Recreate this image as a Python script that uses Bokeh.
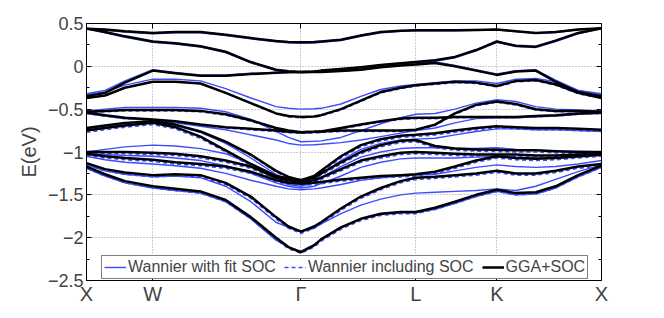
from bokeh.plotting import figure
from bokeh.models import Range1d, FixedTicker, LinearAxis, Legend, LegendItem
from bokeh.embed import file_html
from bokeh.resources import INLINE

# k-path positions of sampled points (X-W-Gamma-L-K-X)
K = [0.0, 0.14, 0.29, 0.5, 0.67, 0.86, 1.05, 1.24, 1.43, 1.524, 1.618, 1.717, 1.77, 1.92, 2.07, 2.22, 2.37, 2.484,
     2.63, 2.78, 2.94, 3.096, 3.24, 3.39, 3.54, 3.71, 3.886]
TICK_POS = [0.0, 0.5, 1.618, 2.484, 3.096, 3.886]
TICK_LABELS = ["X", "W", "Γ", "L", "K", "X"]
Y_TICKS = [-2.5, -2.0, -1.5, -1.0, -0.5, 0.0, 0.5]
Y_MINOR = [-2.25, -1.75, -1.25, -0.75, -0.25, 0.25]
Y_LABELS = ["−2.5", "−2", "−1.5", "−1", "−0.5", "0", "0.5"]
SERIES = ["Wannier with fit SOC", "Wannier including SOC", "GGA+SOC"]

# GGA+SOC bands (eV)
G1 = [0.44, 0.43, 0.41, 0.39, 0.40, 0.40, 0.37, 0.33, 0.295, 0.285, 0.28, 0.283, 0.29, 0.31, 0.36, 0.40, 0.415, 0.42, 0.42, 0.42, 0.425, 0.43, 0.41, 0.39, 0.40, 0.43, 0.445]
G2 = [0.44, 0.40, 0.35, 0.29, 0.27, 0.235, 0.17, 0.05, -0.04, -0.058, -0.066, -0.06, -0.05, -0.03, -0.01, 0.015, 0.035, 0.05, 0.07, 0.11, 0.19, 0.29, 0.24, 0.23, 0.30, 0.39, 0.445]
G3 = [-0.35, -0.31, -0.19, -0.05, -0.08, -0.11, -0.11, -0.09, -0.075, -0.07, -0.066, -0.066, -0.066, -0.055, -0.04, -0.01, 0.01, 0.02, 0.04, 0.0, -0.05, -0.10, -0.06, -0.05, -0.18, -0.30, -0.35]
G4 = [-0.37, -0.34, -0.25, -0.18, -0.18, -0.20, -0.31, -0.43, -0.55, -0.58, -0.59, -0.585, -0.57, -0.50, -0.40, -0.30, -0.25, -0.22, -0.20, -0.18, -0.19, -0.23, -0.17, -0.16, -0.21, -0.31, -0.37]
G5 = [-0.53, -0.52, -0.51, -0.51, -0.51, -0.52, -0.56, -0.63, -0.72, -0.75, -0.77, -0.765, -0.76, -0.75, -0.75, -0.75, -0.75, -0.74, -0.68, -0.55, -0.45, -0.41, -0.44, -0.50, -0.52, -0.52, -0.53]
G6 = [-0.54, -0.57, -0.60, -0.62, -0.64, -0.68, -0.71, -0.73, -0.75, -0.765, -0.77, -0.765, -0.76, -0.72, -0.68, -0.64, -0.61, -0.60, -0.60, -0.59, -0.59, -0.59, -0.59, -0.58, -0.57, -0.55, -0.54]
G7 = [-0.72, -0.69, -0.66, -0.64, -0.68, -0.76, -0.88, -1.03, -1.22, -1.29, -1.33, -1.28, -1.22, -1.05, -0.92, -0.85, -0.81, -0.80, -0.78, -0.75, -0.72, -0.70, -0.71, -0.72, -0.72, -0.73, -0.74]
G8 = [-0.75, -0.72, -0.69, -0.66, -0.71, -0.82, -0.98, -1.14, -1.28, -1.31, -1.33, -1.30, -1.25, -1.12, -1.00, -0.92, -0.87, -0.86, -0.93, -0.96, -0.97, -0.975, -0.98, -0.98, -0.99, -1.00, -1.00]
G9 = [-1.00, -1.00, -1.00, -1.01, -1.02, -1.05, -1.10, -1.17, -1.30, -1.33, -1.35, -1.33, -1.30, -1.20, -1.10, -1.05, -1.01, -1.00, -1.01, -1.02, -1.03, -1.03, -1.03, -1.04, -1.04, -1.03, -1.02]
G10 = [-1.02, -1.05, -1.07, -1.09, -1.12, -1.14, -1.17, -1.23, -1.33, -1.36, -1.37, -1.36, -1.35, -1.32, -1.30, -1.28, -1.27, -1.26, -1.23, -1.17, -1.10, -1.05, -1.07, -1.08, -1.07, -1.05, -1.03]
G11 = [-1.13, -1.20, -1.24, -1.27, -1.26, -1.27, -1.36, -1.52, -1.76, -1.87, -1.93, -1.87, -1.82, -1.66, -1.52, -1.42, -1.34, -1.30, -1.29, -1.27, -1.25, -1.22, -1.25, -1.25, -1.22, -1.17, -1.14]
G12 = [-1.17, -1.26, -1.34, -1.40, -1.43, -1.46, -1.56, -1.76, -2.00, -2.11, -2.17, -2.09, -2.02, -1.88, -1.78, -1.72, -1.70, -1.70, -1.65, -1.58, -1.50, -1.44, -1.48, -1.47, -1.40, -1.27, -1.16]

# Wannier including SOC (dashed)
D1 = [0.44, 0.43, 0.41, 0.39, 0.40, 0.40, 0.37, 0.33, 0.295, 0.285, 0.28, 0.283, 0.29, 0.31, 0.36, 0.40, 0.415, 0.42, 0.42, 0.42, 0.425, 0.43, 0.41, 0.39, 0.40, 0.43, 0.445]
D2 = [0.44, 0.40, 0.35, 0.29, 0.27, 0.235, 0.17, 0.05, -0.04, -0.058, -0.066, -0.06, -0.05, -0.03, -0.01, 0.015, 0.035, 0.05, 0.07, 0.11, 0.19, 0.29, 0.24, 0.23, 0.30, 0.39, 0.445]
D3 = [-0.35, -0.31, -0.19, -0.05, -0.08, -0.11, -0.11, -0.09, -0.075, -0.07, -0.066, -0.066, -0.066, -0.055, -0.04, -0.01, 0.01, 0.02, 0.04, 0.0, -0.05, -0.10, -0.06, -0.05, -0.18, -0.30, -0.35]
D4 = [-0.37, -0.34, -0.25, -0.18, -0.18, -0.20, -0.31, -0.43, -0.55, -0.59, -0.60, -0.59, -0.58, -0.51, -0.41, -0.31, -0.26, -0.23, -0.21, -0.19, -0.20, -0.24, -0.18, -0.17, -0.22, -0.32, -0.37]
D5 = [-0.54, -0.53, -0.52, -0.52, -0.52, -0.53, -0.57, -0.64, -0.73, -0.76, -0.78, -0.775, -0.77, -0.76, -0.76, -0.76, -0.76, -0.755, -0.69, -0.56, -0.46, -0.42, -0.45, -0.51, -0.53, -0.53, -0.54]
D6 = [-0.55, -0.58, -0.61, -0.63, -0.65, -0.69, -0.72, -0.74, -0.76, -0.775, -0.78, -0.775, -0.77, -0.73, -0.69, -0.65, -0.62, -0.61, -0.61, -0.60, -0.60, -0.60, -0.60, -0.59, -0.58, -0.56, -0.55]
D7 = [-0.73, -0.70, -0.67, -0.65, -0.69, -0.77, -0.89, -1.04, -1.23, -1.31, -1.35, -1.30, -1.24, -1.07, -0.94, -0.87, -0.83, -0.82, -0.80, -0.77, -0.74, -0.72, -0.73, -0.74, -0.74, -0.75, -0.76]
D8 = [-0.77, -0.74, -0.71, -0.68, -0.73, -0.84, -1.00, -1.16, -1.30, -1.33, -1.35, -1.32, -1.27, -1.14, -1.02, -0.94, -0.89, -0.88, -0.95, -0.98, -0.99, -0.995, -1.00, -1.00, -1.01, -1.02, -1.02]
D9 = [-1.02, -1.02, -1.02, -1.03, -1.04, -1.07, -1.12, -1.19, -1.32, -1.35, -1.37, -1.35, -1.32, -1.22, -1.12, -1.07, -1.03, -1.02, -1.03, -1.04, -1.05, -1.05, -1.05, -1.06, -1.06, -1.05, -1.04]
D10 = [-1.04, -1.07, -1.09, -1.11, -1.14, -1.16, -1.19, -1.25, -1.35, -1.38, -1.39, -1.38, -1.37, -1.34, -1.32, -1.30, -1.29, -1.28, -1.25, -1.19, -1.12, -1.07, -1.09, -1.10, -1.09, -1.07, -1.05]
D11 = [-1.15, -1.22, -1.26, -1.29, -1.28, -1.29, -1.38, -1.54, -1.78, -1.89, -1.95, -1.89, -1.84, -1.68, -1.54, -1.44, -1.36, -1.32, -1.31, -1.29, -1.27, -1.24, -1.27, -1.27, -1.24, -1.19, -1.16]
D12 = [-1.19, -1.28, -1.36, -1.42, -1.45, -1.48, -1.58, -1.78, -2.02, -2.13, -2.18, -2.11, -2.04, -1.90, -1.80, -1.74, -1.72, -1.72, -1.67, -1.60, -1.52, -1.46, -1.50, -1.49, -1.42, -1.29, -1.18]

# Wannier with fit SOC (solid blue)
S1 = [0.44, 0.42, 0.40, 0.38, 0.39, 0.39, 0.36, 0.32, 0.285, 0.275, 0.27, 0.273, 0.28, 0.30, 0.35, 0.39, 0.41, 0.415, 0.415, 0.415, 0.42, 0.425, 0.405, 0.385, 0.395, 0.425, 0.44]
S2 = [0.44, 0.39, 0.34, 0.28, 0.26, 0.225, 0.16, 0.04, -0.05, -0.067, -0.075, -0.07, -0.06, -0.04, -0.02, 0.005, 0.025, 0.04, 0.06, 0.10, 0.18, 0.28, 0.23, 0.22, 0.29, 0.38, 0.44]
S3 = [-0.32, -0.28, -0.17, -0.04, -0.07, -0.10, -0.10, -0.08, -0.07, -0.068, -0.066, -0.064, -0.06, -0.05, -0.03, 0.0, 0.02, 0.03, 0.05, 0.01, -0.04, -0.09, -0.05, -0.04, -0.16, -0.28, -0.32]
S4 = [-0.33, -0.30, -0.22, -0.15, -0.15, -0.17, -0.26, -0.37, -0.47, -0.49, -0.50, -0.495, -0.49, -0.44, -0.35, -0.27, -0.23, -0.21, -0.19, -0.17, -0.17, -0.20, -0.15, -0.14, -0.18, -0.28, -0.33]
S5 = [-0.52, -0.50, -0.48, -0.48, -0.48, -0.49, -0.53, -0.62, -0.76, -0.83, -0.88, -0.875, -0.87, -0.83, -0.75, -0.67, -0.60, -0.56, -0.55, -0.50, -0.43, -0.39, -0.41, -0.47, -0.50, -0.51, -0.52]
S6 = [-0.55, -0.58, -0.61, -0.63, -0.66, -0.70, -0.74, -0.80, -0.86, -0.90, -0.92, -0.915, -0.91, -0.89, -0.86, -0.82, -0.78, -0.75, -0.72, -0.66, -0.61, -0.60, -0.60, -0.59, -0.58, -0.56, -0.55]
S7 = [-0.73, -0.70, -0.67, -0.65, -0.69, -0.77, -0.90, -1.07, -1.26, -1.33, -1.36, -1.32, -1.26, -1.10, -0.97, -0.90, -0.86, -0.85, -0.84, -0.80, -0.76, -0.73, -0.73, -0.74, -0.74, -0.75, -0.76]
S8 = [-1.00, -0.97, -0.94, -0.92, -0.93, -0.96, -1.02, -1.14, -1.32, -1.38, -1.40, -1.36, -1.30, -1.17, -1.06, -1.00, -0.96, -0.95, -0.95, -0.96, -0.96, -0.95, -0.97, -0.98, -0.99, -0.99, -1.00]
S9 = [-1.02, -1.03, -1.04, -1.05, -1.07, -1.10, -1.16, -1.25, -1.36, -1.40, -1.42, -1.40, -1.37, -1.28, -1.18, -1.12, -1.08, -1.07, -1.07, -1.07, -1.06, -1.05, -1.06, -1.07, -1.07, -1.06, -1.04]
S10 = [-1.05, -1.09, -1.12, -1.14, -1.16, -1.19, -1.25, -1.33, -1.40, -1.43, -1.44, -1.43, -1.42, -1.38, -1.33, -1.30, -1.28, -1.27, -1.26, -1.22, -1.18, -1.15, -1.17, -1.18, -1.17, -1.14, -1.10]
S11 = [-1.15, -1.22, -1.26, -1.29, -1.28, -1.30, -1.40, -1.58, -1.82, -1.88, -1.93, -1.89, -1.84, -1.72, -1.62, -1.55, -1.50, -1.48, -1.47, -1.46, -1.45, -1.43, -1.45, -1.40, -1.32, -1.23, -1.15]
S12 = [-1.19, -1.28, -1.36, -1.42, -1.45, -1.48, -1.58, -1.78, -2.03, -2.11, -2.16, -2.08, -2.02, -1.88, -1.78, -1.73, -1.71, -1.71, -1.67, -1.60, -1.52, -1.46, -1.50, -1.49, -1.42, -1.29, -1.18]

GGA = [G1, G2, G3, G4, G5, G6, G7, G8, G9, G10, G11, G12]
WDASH = [D1, D2, D3, D4, D5, D6, D7, D8, D9, D10, D11, D12]
WFIT = [S1, S2, S3, S4, S5, S6, S7, S8, S9, S10, S11, S12]

FONT = "Liberation Sans"
BLUE = "#3b4cff"

p = figure(width=664, height=318, output_backend="svg", toolbar_location=None,
           x_range=Range1d(0, 3.886), y_range=Range1d(-2.5, 0.5),
           min_border_left=86, min_border_right=63, min_border_top=23, min_border_bottom=38)
p.background_fill_color = "white"
p.border_fill_color = "white"
p.outline_line_color = "black"
p.outline_line_width = 1

r_fit = p.multi_line(xs=[K] * len(WFIT), ys=WFIT, line_color=BLUE, line_width=1.4, line_join="round")
r_dash = p.multi_line(xs=[K] * len(WDASH), ys=WDASH, line_color=BLUE, line_width=1.6, line_dash="4 3")
r_gga = p.multi_line(xs=[K] * len(GGA), ys=GGA, line_color="black", line_width=2.5, line_join="round")

# axes
p.xaxis.ticker = FixedTicker(ticks=TICK_POS)
p.xaxis.major_label_overrides = {t: l for t, l in zip(TICK_POS, TICK_LABELS)}
p.xaxis.major_label_text_font = FONT
p.xaxis.major_label_text_font_size = "20px"
p.xaxis.major_label_standoff = 2
p.xaxis.major_tick_in = 5
p.xaxis.major_tick_out = 0
p.xaxis.minor_tick_line_color = None

p.yaxis.ticker = FixedTicker(ticks=Y_TICKS, minor_ticks=Y_MINOR)
p.yaxis.major_label_overrides = {t: l for t, l in zip(Y_TICKS, Y_LABELS)}
p.yaxis.major_label_text_font = FONT
p.yaxis.major_label_text_font_size = "18px"
p.yaxis.major_label_standoff = 3
p.yaxis.major_tick_in = 5
p.yaxis.major_tick_out = 0
p.yaxis.minor_tick_in = 3
p.yaxis.minor_tick_out = 0
p.yaxis.axis_label = "E(eV)"
p.yaxis.axis_label_text_font = FONT
p.yaxis.axis_label_text_font_size = "20px"
p.yaxis.axis_label_text_font_style = "normal"
p.yaxis.axis_label_standoff = 5

top = LinearAxis(ticker=FixedTicker(ticks=TICK_POS), major_tick_in=5, major_tick_out=0,
                 minor_tick_line_color=None, major_label_standoff=0,
                 major_label_overrides={t: "" for t in TICK_POS})
right = LinearAxis(ticker=FixedTicker(ticks=Y_TICKS, minor_ticks=Y_MINOR),
                   major_tick_in=5, major_tick_out=0, minor_tick_in=3, minor_tick_out=0,
                   major_label_standoff=0, major_label_overrides={t: "" for t in Y_TICKS})
p.add_layout(top, "above")
p.add_layout(right, "right")

p.grid.grid_line_color = "#9a9a9a"
p.grid.grid_line_dash = "1 2"
p.grid.grid_line_width = 1

legend = Legend(items=[LegendItem(label=SERIES[0], renderers=[r_fit]),
                       LegendItem(label=SERIES[1], renderers=[r_dash]),
                       LegendItem(label=SERIES[2], renderers=[r_gga])],
                orientation="horizontal", location=(15, 1))
legend.label_text_font = FONT
legend.label_text_font_size = "16px"
legend.glyph_width = 22
legend.glyph_height = 16
legend.label_standoff = 2
legend.spacing = 8
legend.padding = 2
legend.margin = 0
legend.border_line_color = "black"
legend.border_line_width = 1
legend.background_fill_alpha = 1
p.add_layout(legend)

open("out.html", "w").write(file_html(p, INLINE))
